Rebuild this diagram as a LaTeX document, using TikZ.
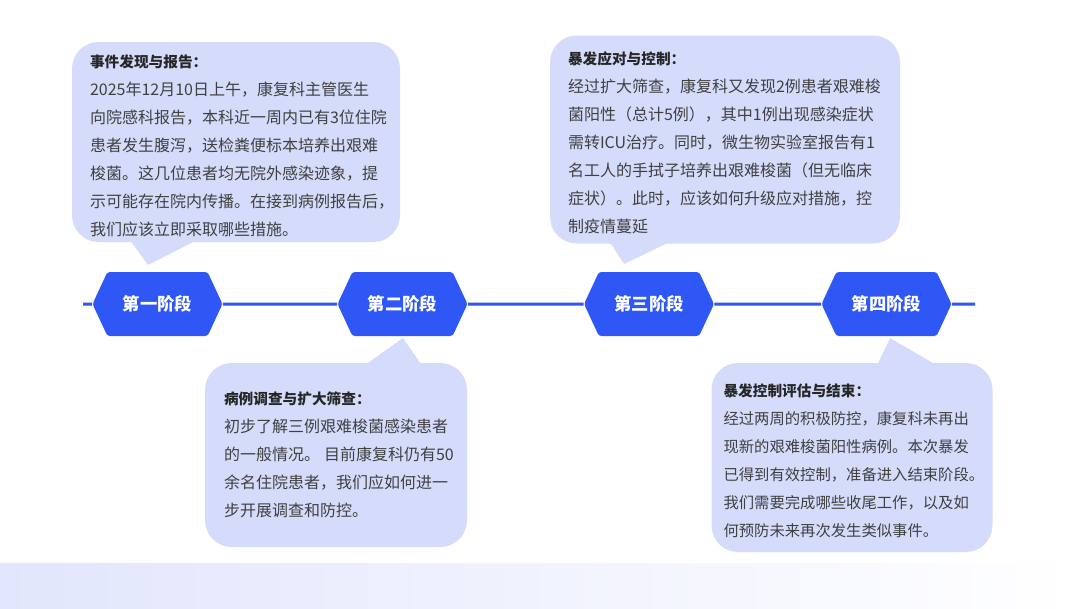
\documentclass[tikz,border=0pt]{standalone}
\usepackage{fontspec}
\newfontfamily\cjk{Noto Sans CJK SC}
\usepackage{tikz}
\usetikzlibrary{shapes.symbols, positioning}
\definecolor{stageblue}{RGB}{46,87,246}
\definecolor{bubblecol}{RGB}{213,220,251}
\definecolor{bandcol}{RGB}{226,230,252}
\definecolor{bodytext}{RGB}{64,64,64}
\definecolor{titletext}{RGB}{38,38,38}
\newcommand{\phasetitle}[1]{{\fontsize{11}{21}\selectfont\bfseries\color{titletext}#1}}

\begin{document}
\begin{tikzpicture}[
  x=0.75pt, y=-0.75pt,
  font=\cjk,
  stagebox/.style={shape=signal, signal to=east and west, signal pointer angle=130,
                   fill=stageblue, text=white, minimum width=97.5pt, minimum height=48pt,
                   inner sep=0pt, rounded corners=2pt,
                   font=\cjk\fontsize{13}{15}\selectfont\bfseries},
  bubble/.style={fill=bubblecol, rounded corners=20pt, inner sep=0pt},
  note/.style={align=left, inner sep=0pt, text=bodytext,
               font=\cjk\fontsize{12}{21}\selectfont},
  tail/.style={fill=bubblecol},
  link/.style={stageblue, line width=2.25pt}
]
  \useasboundingbox (0,0) rectangle (1080,608);
  \fill[white] (0,0) rectangle (1080,608);
  \shade[left color=bandcol, right color=white] (0,563) rectangle (1080,608);

  \node[stagebox] (s1) at (157.5,304) {第一阶段};
  \node[stagebox] (s2) at (402.5,304) {第二阶段};
  \node[stagebox] (s3) at (649,304) {第三阶段};
  \node[stagebox] (s4) at (886.5,304) {第四阶段};

  \coordinate (lineL) at (83,304);
  \coordinate (lineR) at (975,304);
  \draw[link] (lineL) -- (s1);
  \draw[link] (s1) -- (s2);
  \draw[link] (s2) -- (s3);
  \draw[link] (s3) -- (s4);
  \draw[link] (s4) -- (lineR);

  \node[bubble, minimum width=246pt, minimum height=150pt] (b1) at (236,142) {};
  \node[bubble, minimum width=196.5pt, minimum height=138pt] (b2) at (336,455) {};
  \node[bubble, minimum width=262.5pt, minimum height=156pt] (b3) at (725,139.5) {};
  \node[bubble, minimum width=210.75pt, minimum height=141.75pt] (b4) at (852,457.5) {};

  \fill[tail] (127,236) -- (148,265) -- (205,236) -- cycle;
  \fill[tail] (606,236) -- (624,264) -- (682,236) -- cycle;
  \fill[tail] (358,370) -- (403,338) -- (425,370) -- cycle;
  \fill[tail] (875,370) -- (890,338) -- (945,370) -- cycle;

  \node[note, below right=9.5pt and 13.5pt of b1.north west] (n1)
    {\phasetitle{事件发现与报告：}\\
     2025年12月10日上午，康复科主管医生\\
     向院感科报告，本科近一周内已有3位住院\\
     患者发生腹泻，送检粪便标本培养出艰难\\
     梭菌。这几位患者均无院外感染迹象，提\\
     示可能存在院内传播。在接到病例报告后，\\
     我们应该立即采取哪些措施。};
  \node[note, below right=21.75pt and 14.25pt of b2.north west] (n2)
    {\phasetitle{病例调查与扩大筛查：}\\
     初步了解三例艰难梭菌感染患者\\
     的一般情况。\hspace{0.25em}目前康复科仍有50\\
     余名住院患者，我们应如何进一\\
     步开展调查和防控。};
  \node[note, below right=12pt and 13.5pt of b3.north west] (n3)
    {\phasetitle{暴发应对与控制：}\\
     经过扩大筛查，康复科又发现2例患者艰难梭\\
     菌阳性（总计5例），其中1例出现感染症状\\
     需转ICU治疗。同时，微生物实验室报告有1\\
     名工人的手拭子培养出艰难梭菌（但无临床\\
     症状）。此时，应该如何升级应对措施，控\\
     制疫情蔓延};
  \node[note, below right=15.75pt and 9pt of b4.north west,
        font=\cjk\fontsize{11.5}{21}\selectfont] (n4)
    {\phasetitle{暴发控制评估与结束：}\\
     经过两周的积极防控，康复科未再出\\
     现新的艰难梭菌阳性病例。本次暴发\\
     已得到有效控制，准备进入结束阶段。\\
     我们需要完成哪些收尾工作，以及如\\
     何预防未来再次发生类似事件。};
\end{tikzpicture}
\end{document}
